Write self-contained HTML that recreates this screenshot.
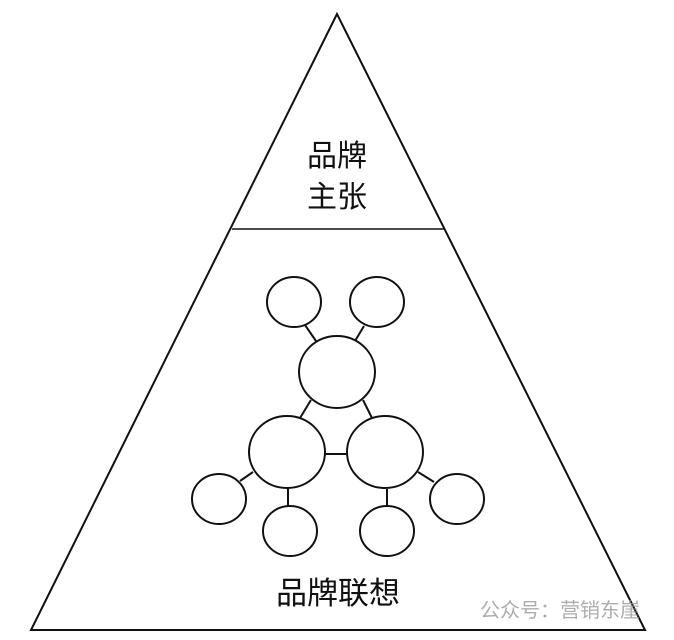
<!DOCTYPE html>
<html><head><meta charset="utf-8"><style>
html,body{margin:0;padding:0;background:#fff;width:674px;height:640px;overflow:hidden}
</style></head><body>
<svg width="674" height="640" viewBox="0 0 674 640" xmlns="http://www.w3.org/2000/svg">
<g fill="none" stroke="#111" stroke-width="2">
<polygon points="337,14 31,630 645,630"/>
<line x1="232" y1="229" x2="444" y2="229" stroke-width="1.5"/>
<line x1="305" y1="325" x2="316" y2="341"/>
<line x1="364" y1="326" x2="355" y2="341"/>
<line x1="311" y1="400" x2="300" y2="418"/>
<line x1="363" y1="400" x2="372" y2="418"/>
<line x1="325" y1="454" x2="347" y2="454"/>
<line x1="253" y1="472" x2="240" y2="481"/>
<line x1="288" y1="488" x2="288" y2="507"/>
<line x1="387" y1="489" x2="387" y2="507"/>
<line x1="418" y1="472" x2="434" y2="482"/>
</g>
<g fill="#fff" stroke="#111" stroke-width="2">
<ellipse cx="294" cy="302" rx="27" ry="25"/>
<ellipse cx="377" cy="302" rx="27" ry="25"/>
<ellipse cx="337" cy="372" rx="38" ry="36"/>
<ellipse cx="287" cy="452" rx="38" ry="36"/>
<ellipse cx="385" cy="452" rx="38" ry="36"/>
<ellipse cx="219" cy="499" rx="27" ry="25"/>
<ellipse cx="290" cy="531" rx="27" ry="25"/>
<ellipse cx="387" cy="531" rx="27" ry="25"/>
<ellipse cx="457" cy="499" rx="27" ry="25"/>
</g>
<g font-family="Liberation Sans, Noto Sans CJK SC, sans-serif" fill="#111" font-size="30" text-anchor="middle">
<text x="337" y="166">品牌</text>
<text x="337" y="207">主张</text>
<text x="338" y="604" font-size="31">品牌联想</text>
</g>
<text x="560" y="617" font-family="Liberation Sans, Noto Sans CJK SC, sans-serif" font-size="20" fill="#999" text-anchor="middle" opacity="0.8">公众号：营销东崖</text>
</svg>
</body></html>
